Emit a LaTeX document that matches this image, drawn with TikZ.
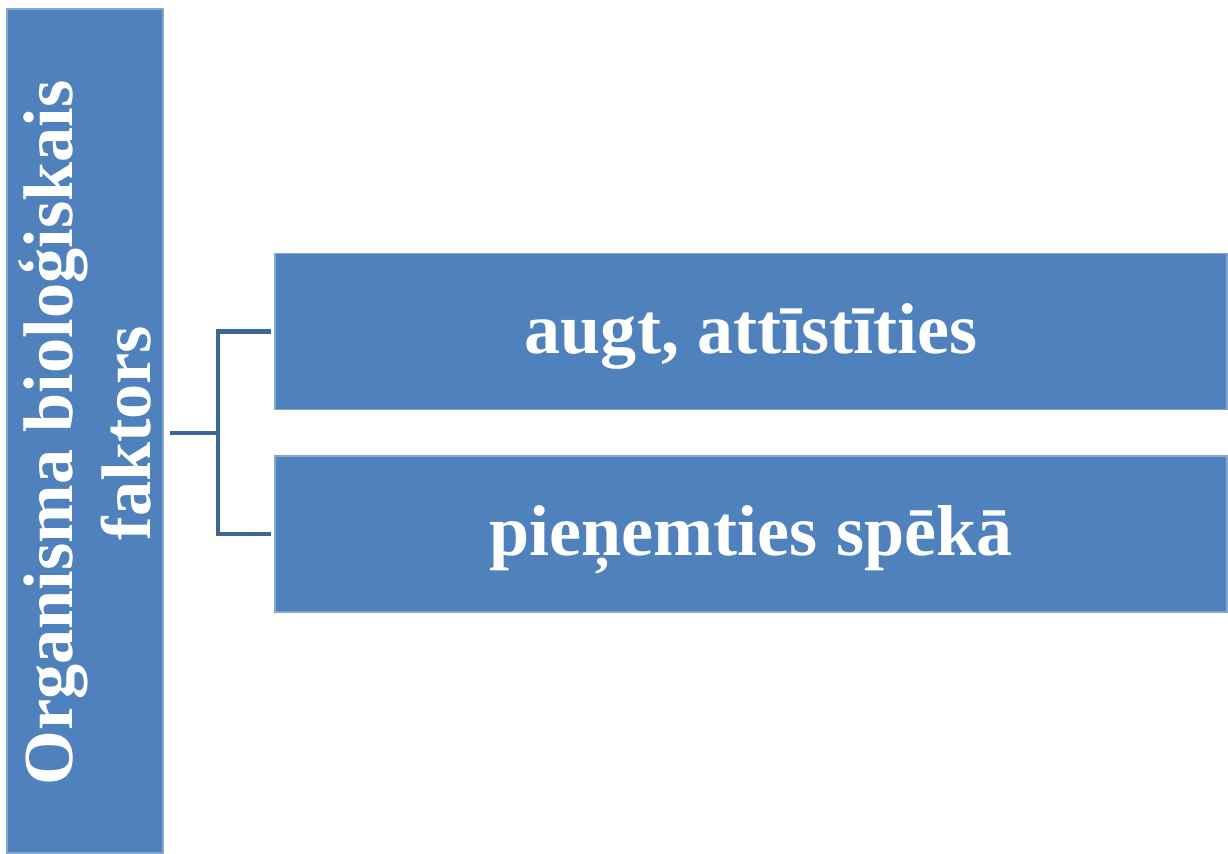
\documentclass[tikz,border=0pt]{standalone}
\usepackage{fontspec}
\setmainfont{Liberation Serif}
\definecolor{boxblue}{HTML}{4F81BD}
\definecolor{linkblue}{HTML}{3D6698}
\begin{document}
\begin{tikzpicture}[x=0.02cm,y=-0.02cm,
  factorbox/.style={fill=boxblue, draw=boxblue!70!white, line width=0.6pt, inner sep=0pt},
  boxtext/.style={text=white, inner sep=0pt, font=\fontsize{41}{46}\selectfont\bfseries},
  link/.style={draw=linkblue, line width=2.8pt}]
\useasboundingbox (0,0) rectangle (1228,853);
\pgfmathsetmacro\boxw{952}
\pgfmathsetmacro\boxh{156}
% left column
\node[factorbox, minimum width=156*0.02cm, minimum height=844*0.02cm] (main) at (85,431) {};
\node[rotate=90, align=center, text=white, font=\fontsize{40}{44}\selectfont\bfseries] (maintext) at (85,433) {Organisma bioloģiskais\\faktors};
% right boxes
\node[factorbox, minimum width=\boxw*0.02cm, minimum height=\boxh*0.02cm] (grow) at (751,331.5) {};
\node[boxtext] (growtext) at ([yshift=-0.1cm]grow.center) {augt, attīstīties};
\node[factorbox, minimum width=\boxw*0.02cm, minimum height=\boxh*0.02cm] (gain) at (751,534) {};
\node[boxtext] (gaintext) at ([yshift=-0.12cm]gain.center) {pieņemties spēkā};
% bracket
\coordinate (fork) at (218,433);
\draw[link] ([xshift=6*0.02cm]main.east |- fork) -- (fork);
\draw[link, line cap=rect] ([xshift=-6*0.02cm]grow.west) -| (fork) |- ([xshift=-6*0.02cm]gain.west);
\end{tikzpicture}
\end{document}
